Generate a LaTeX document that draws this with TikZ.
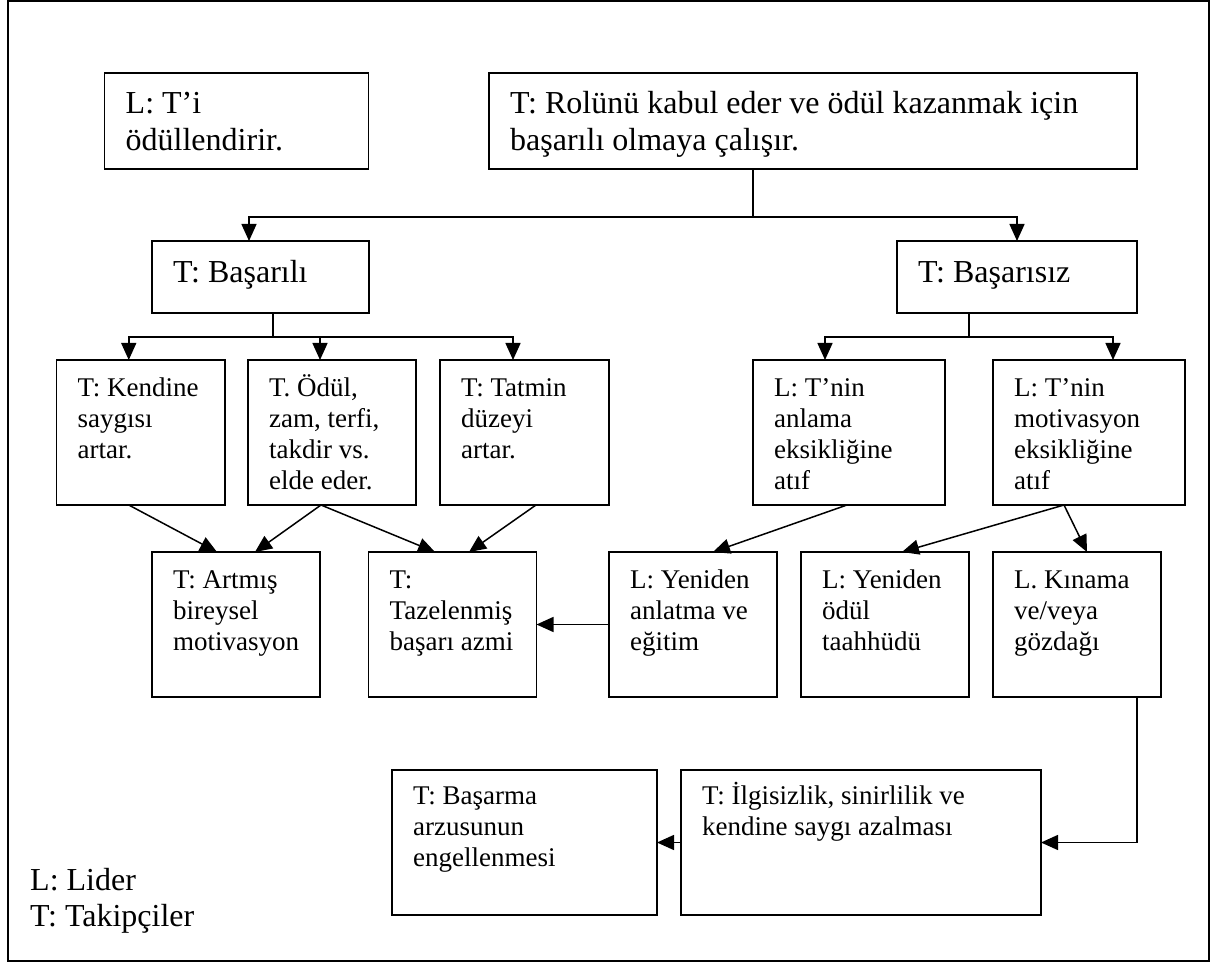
\documentclass[tikz,border=0pt]{standalone}
\usepackage{fontspec}
\setmainfont{Liberation Serif}
\usetikzlibrary{arrows.meta}

\tikzset{
  boxst/.style={draw, line width=1.5pt, inner sep=0pt, outer sep=0pt},
  txtsmall/.style={font=\fontsize{27}{31}\selectfont, inner sep=0pt, align=left},
  txtbig/.style={font=\fontsize{32}{36.5}\selectfont, inner sep=0pt, align=left},
  conn/.style={line width=1.5pt},
  arr/.style={conn, -{Triangle[length=17pt,width=15pt]}},
}

% #1 name, #2 x1, #3 y1, #4 x2, #5 y2, #6 text style, #7 text drop, #8 text
\newcommand\flowbox[8]{%
  \node[boxst, minimum width={(#4-#2)*1pt}, minimum height={(#5-#3)*1pt},
        anchor=north west] (#1) at (#2,#3) {};
  \node[#6, anchor=north west] (#1-txt) at ([shift={(21,#7)}]#1.north west)
        {\rule{0pt}{1em}#8};
}

\begin{document}
\begin{tikzpicture}[x=1pt, y=-1pt]
\useasboundingbox (0,0) rectangle (1224,965);
\draw[line width=1.7pt] (8,1) rectangle (1209,961);

% top row
\flowbox{rew}{104.5}{73}{368.5}{169}{txtbig}{8.5}{L: T’i\\ödüllendirir.}
\flowbox{role}{489}{73}{1137}{169}{txtbig}{8.5}{T: Rolünü kabul eder ve ödül kazanmak için\\başarılı olmaya çalışır.}

% outcome
\flowbox{succ}{152}{241}{369}{313}{txtbig}{9}{T: Başarılı}
\flowbox{fail}{897}{241}{1137}{313}{txtbig}{9}{T: Başarısız}

% second level
\flowbox{self}{56.5}{360}{225}{505}{txtsmall}{9.5}{T: Kendine\\saygısı\\artar.}
\flowbox{gain}{248}{360}{416}{505}{txtsmall}{9.5}{T. Ödül,\\zam, terfi,\\takdir vs.\\elde eder.}
\flowbox{satis}{440}{360}{609}{505}{txtsmall}{9.5}{T: Tatmin\\düzeyi\\artar.}
\flowbox{und}{753}{360}{945}{505}{txtsmall}{9.5}{L: T’nin\\anlama\\eksikliğine\\atıf}
\flowbox{mot}{993}{360}{1185}{505}{txtsmall}{9.5}{L: T’nin\\motivasyon\\eksikliğine\\atıf}

% third level
\flowbox{indiv}{152}{552}{320}{697}{txtsmall}{9.5}{T: Artmış\\bireysel\\motivasyon}
\flowbox{renew}{368.5}{552}{536.5}{697}{txtsmall}{9.5}{T:\\Tazelenmiş\\başarı azmi}
\flowbox{train}{609}{552}{777}{697}{txtsmall}{9.5}{L: Yeniden\\anlatma ve\\eğitim}
\flowbox{promise}{801}{552}{969}{697}{txtsmall}{9.5}{L: Yeniden\\ödül\\taahhüdü}
\flowbox{blame}{993}{552}{1161}{697}{txtsmall}{9.5}{L. Kınama\\ve/veya\\gözdağı}

% bottom level
\flowbox{apathy}{681}{770}{1041}{915}{txtsmall}{7}{T: İlgisizlik, sinirlilik ve\\kendine saygı azalması}
\flowbox{block}{392}{770}{657}{915}{txtsmall}{7}{T: Başarma\\arzusunun\\engellenmesi}

% legend
\node[txtbig, anchor=north west] (legend) at (30,858) {\rule{0pt}{1em}L: Lider\\T: Takipçiler};

% branching from the role box
\coordinate (j0) at (753,217);
\draw[conn] (role.south -| j0) -- (j0);
\draw[arr] (j0) -| ([xshift=-11.5]succ.north);
\draw[arr] (j0) -| (fail.north);

% branching from success
\coordinate (j1) at (273,337);
\draw[conn] (succ.south -| j1) -- (j1);
\draw[arr] (j1) -| ([xshift=-12]self.north);
\draw[arr] (j1) -| ([xshift=-12]gain.north);
\draw[arr] (j1) -| ([xshift=-11.5]satis.north);

% branching from failure
\coordinate (j2) at (969,337);
\draw[conn] (fail.south -| j2) -- (j2);
\draw[arr] (j2) -| ([xshift=-24]und.north);
\draw[arr] (j2) -| ([xshift=24]mot.north);

% diagonal links
\draw[arr] ([xshift=-12]self.south) -- ([xshift=-19]indiv.north);
\draw[arr] ([xshift=-11]gain.south) -- ([xshift=19]indiv.north);
\draw[arr] ([xshift=-11]gain.south) -- ([xshift=-17.5]renew.north);
\draw[arr] ([xshift=11.5]satis.south) -- ([xshift=16.5]renew.north);
\draw[arr] ([xshift=-2]und.south) -- ([xshift=20]train.north);
\draw[arr] ([xshift=-25]mot.south) -- ([xshift=17]promise.north);
\draw[arr] ([xshift=-25]mot.south) -- ([xshift=10]blame.north);

% horizontal links
\draw[arr] (train.west) -- (renew.east);
\draw[arr] ([xshift=60]blame.south) |- (apathy.east);
\draw[arr] (apathy.west) -- (block.east);
\end{tikzpicture}
\end{document}
